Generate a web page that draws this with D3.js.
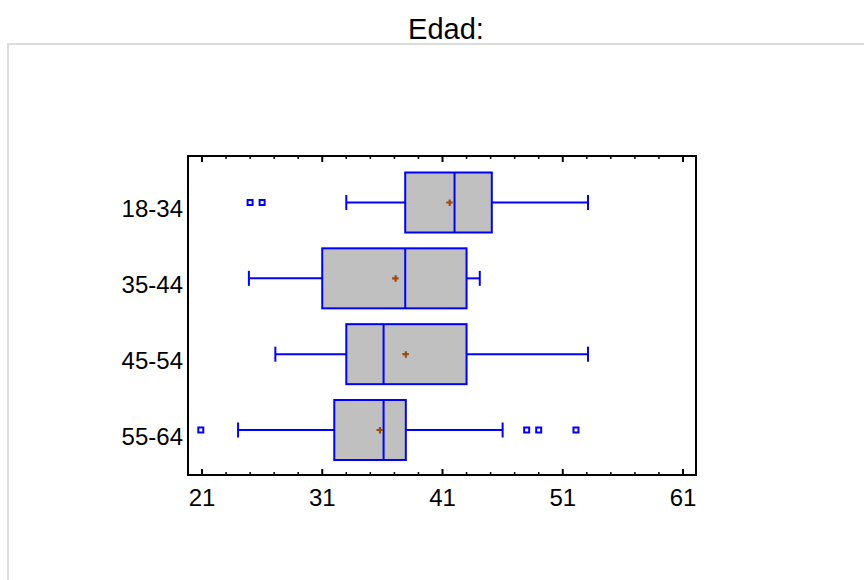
<!DOCTYPE html>
<html><head><meta charset="utf-8">
<script src="https://cdn.jsdelivr.net/npm/d3@7"></script>
<style>body{margin:0;background:#fff}svg{display:block}</style>
</head><body>
<svg id="c" width="864" height="580"></svg>
<script>
const categories = ["18-34", "35-44", "45-54", "55-64"];
const lowWhisker = [33, 24.9, 27.1, 24];
const q1 = [37.9, 31, 33, 32];
const median = [42, 37.9, 36.1, 36.1];
const q3 = [45.1, 43, 43, 37.95];
const highWhisker = [53.1, 44.1, 53.1, 46];
const means = [41.6, 37.1, 37.95, 35.8];
const outliers = [[25, 26], [], [], [20.9, 48, 49, 52.1]];
const xTicks = [21, 31, 41, 51, 61];
const title = "Edad:";

const svg = d3.select("#c");
const font = "Arial, 'Liberation Sans', sans-serif";

// outer panel border
svg.append("path").attr("d", "M8,580 V44 H864").attr("fill", "none")
  .attr("stroke", "#dcdcdc").attr("stroke-width", 2);

svg.append("text").attr("x", 446).attr("y", 39).attr("text-anchor", "middle")
  .attr("font-family", font).attr("font-size", 29).attr("fill", "#000").text(title);

const frame = {l: 188, r: 696, t: 156, b: 475};
const x = d3.scaleLinear().domain([21, 61]).range([202, 683]);
const y = d3.scalePoint().domain(categories).range([202.5, 430]);

// boxes
const g = svg.append("g");
categories.forEach((c, i) => {
  const cy = y(c), h = 30, cap = 7.5;
  const blue = "#0000ff";
  g.append("line").attr("x1", x(lowWhisker[i])).attr("x2", x(q1[i])).attr("y1", cy).attr("y2", cy)
    .attr("stroke", blue).attr("stroke-width", 2);
  g.append("line").attr("x1", x(q3[i])).attr("x2", x(highWhisker[i])).attr("y1", cy).attr("y2", cy)
    .attr("stroke", blue).attr("stroke-width", 2);
  [lowWhisker[i], highWhisker[i]].forEach(v => {
    g.append("line").attr("x1", x(v)).attr("x2", x(v)).attr("y1", cy - cap).attr("y2", cy + cap)
      .attr("stroke", blue).attr("stroke-width", 2);
  });
  g.append("rect").attr("x", x(q1[i])).attr("width", x(q3[i]) - x(q1[i]))
    .attr("y", cy - h).attr("height", 2 * h)
    .attr("fill", "#c0c0c0").attr("stroke", blue).attr("stroke-width", 2);
  g.append("line").attr("x1", x(median[i])).attr("x2", x(median[i])).attr("y1", cy - h).attr("y2", cy + h)
    .attr("stroke", blue).attr("stroke-width", 2);
  const mx = x(means[i]);
  g.append("path").attr("d", `M${mx - 3.5},${cy} H${mx + 3} M${mx},${cy - 3} V${cy + 3.5}`)
    .attr("stroke", "#9c4a10").attr("stroke-width", 2.2);
  outliers[i].forEach(v => {
    g.append("rect").attr("x", x(v) - 2.5).attr("y", cy - 2.5).attr("width", 5).attr("height", 5)
      .attr("fill", "#fff").attr("stroke", blue).attr("stroke-width", 2);
  });
});

// frame
svg.append("rect").attr("x", frame.l).attr("y", frame.t).attr("width", frame.r - frame.l)
  .attr("height", frame.b - frame.t).attr("fill", "none").attr("stroke", "#000").attr("stroke-width", 2);

// x ticks (inward, top and bottom)
const minor = d3.range(21, 62, 2).filter(v => !xTicks.includes(v));
const tg = svg.append("g").attr("stroke", "#000").attr("stroke-width", 2);
xTicks.forEach(v => {
  tg.append("line").attr("x1", x(v)).attr("x2", x(v)).attr("y1", frame.b).attr("y2", frame.b - 6);
  tg.append("line").attr("x1", x(v)).attr("x2", x(v)).attr("y1", frame.t).attr("y2", frame.t + 6);
});
minor.forEach(v => {
  tg.append("line").attr("x1", x(v)).attr("x2", x(v)).attr("y1", frame.b).attr("y2", frame.b - 3).attr("stroke-width", 1.5);
  tg.append("line").attr("x1", x(v)).attr("x2", x(v)).attr("y1", frame.t).attr("y2", frame.t + 3).attr("stroke-width", 1.5);
});
xTicks.forEach(v => {
  svg.append("text").attr("x", x(v)).attr("y", 506).attr("text-anchor", "middle")
    .attr("font-family", font).attr("font-size", 24).text(v);
});

// category labels
categories.forEach(c => {
  svg.append("text").attr("x", frame.l - 5).attr("y", y(c) + 14.5).attr("text-anchor", "end")
    .attr("font-family", font).attr("font-size", 24).text(c);
});
</script>
</body></html>
